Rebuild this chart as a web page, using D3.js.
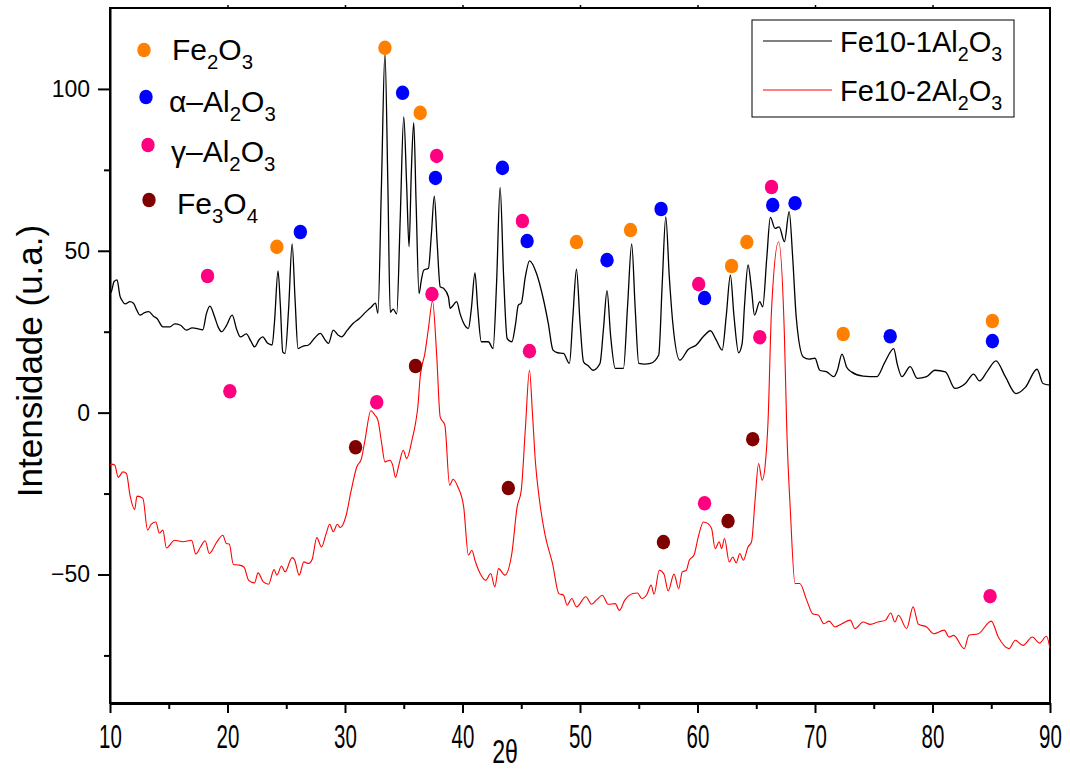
<!DOCTYPE html>
<html>
<head>
<meta charset="utf-8">
<script src="https://cdn.jsdelivr.net/npm/d3@7"></script>
<style>
  body { margin: 0; background: #fff; }
  text { font-family: "Liberation Sans", Arial, sans-serif; fill: #000; }
</style>
</head>
<body>
<div id="chart"></div>
<script>
// Fe10-1Al2O3 (black) pattern
var blackX = [10.0,10.1,10.35,10.6,10.85,11.0,11.3,11.7,12.0,12.3,12.55,12.9,13.3,13.7,14.0,14.5,15.1,15.5,16.0,16.5,17.0,17.7,17.9,18.2,18.5,18.9,19.2,19.5,19.9,20.4,20.8,21.1,21.6,22.0,22.3,22.7,23.0,23.4,23.8,24.0,24.3,24.5,24.7,24.9,25.2,25.5,25.75,26.0,26.4,26.9,27.4,27.9,28.3,28.6,29.0,29.4,29.7,30.2,30.7,31.2,31.8,32.2,32.6,32.8,33.1,33.4,33.65,33.85,34.1,34.4,34.7,35.0,35.25,35.45,35.65,35.85,36.05,36.3,36.5,36.7,37.1,37.35,37.6,37.85,38.1,38.4,38.8,38.95,39.1,39.5,39.8,40.1,40.5,40.75,41.06,41.3,41.6,42.2,42.6,42.9,43.2,43.5,43.8,44.2,44.5,44.75,45.0,45.35,45.7,46.3,46.9,47.3,47.7,48.1,48.6,49.1,49.4,49.7,50.0,50.3,50.7,51.1,51.7,52.0,52.3,52.6,53.0,53.7,54.05,54.4,54.7,55.0,55.5,56.0,56.7,57.0,57.3,57.6,57.9,58.5,59.2,59.9,60.5,61.1,61.6,62.1,62.45,62.8,63.1,63.5,63.8,64.0,64.3,64.6,64.85,65.3,65.55,65.9,66.2,66.6,66.95,67.4,67.8,68.1,68.4,69.0,69.5,70.0,70.4,71.0,71.6,71.9,72.3,72.7,73.1,74.1,75.25,75.96,76.7,77.0,77.4,78.1,78.7,79.5,80.2,81.1,81.9,82.8,83.5,84.0,84.7,85.4,86.2,87.1,87.9,88.9,89.4,90.0];
var blackY = [37,37.3,40.5,41.0,36,34.8,33.6,34.3,33.8,31.5,30.1,30.8,31.2,29.8,29.1,26.5,26.5,27.4,27.0,25.5,26.2,25.7,25.6,30.5,32.9,29.6,26.5,25.0,26.8,30.1,25.5,23.4,24.3,22.0,20.3,22.6,23.4,21.5,20.9,28,43.8,33,18.8,18.3,32,52.1,35,19.8,20.5,20.9,23.0,24.5,22.5,21.4,25.5,24.0,23.4,25.5,27.6,29.0,31.2,32.5,33.8,30.7,70,111,70,31,32,30.5,60,91.4,70,51.3,75,89.6,65,36.8,41,44.0,44.6,55,66.9,52,38.9,38.4,35.8,32.2,32.7,34.3,30.5,27.6,26.0,32,43.2,32,21.9,21.9,19.8,40,69.6,42,22.9,21.9,27,33.2,33.8,42,46.9,43.0,34.8,27.6,19.3,18.5,18.3,15.2,30,44.3,28,15.7,14.5,13.1,15.2,26,37.7,24,13.7,13.7,33,52.1,32,15.2,15.0,15.2,17.8,40,60.5,42,27.6,16.2,19.5,20.9,23.5,25.3,22.4,19.3,30,42.5,30,18.5,21.4,33,45.6,38,30.1,34.3,32.7,48,60.3,56.9,57.4,52.8,62.1,48,29.6,17.2,16.5,16.8,13.1,12.6,11.1,13,18.1,14,12.6,11.3,11.1,15.7,19.8,15,11.1,14.2,10.6,11.1,13.1,12.6,7.5,9.0,11.9,9.8,13,16.0,11.1,5.9,7.8,13.4,9.0,8.5];

// Fe10-2Al2O3 (red) pattern
var redX = [10.0,10.1,10.4,10.7,11.1,11.4,11.7,12.1,12.3,12.8,13.2,13.5,13.9,14.2,14.5,14.8,15.5,16.2,16.95,17.3,17.7,18.1,18.45,19.1,19.6,19.9,20.15,20.5,21.0,21.4,21.8,22.3,22.6,23.05,23.5,23.96,24.2,24.6,24.9,25.5,25.7,26.1,26.5,26.9,27.2,27.6,28.0,28.4,28.7,29.0,29.35,29.6,30.1,30.5,31.0,31.4,31.7,32.2,32.55,32.8,33.1,33.4,33.8,34.06,34.3,34.6,34.96,35.25,35.7,36.0,36.2,36.4,36.8,37.1,37.45,37.8,38.1,38.5,38.9,39.2,39.6,40.1,40.5,40.8,41.06,41.5,41.97,42.4,42.75,43.07,43.6,44.2,44.65,45.0,45.35,45.7,45.95,46.2,46.55,47.0,47.66,48.2,48.6,48.9,49.3,49.7,50.5,50.98,51.45,51.9,52.4,53.0,53.35,53.8,54.5,54.9,55.25,55.7,56.05,56.3,56.75,57.15,57.5,58.0,58.4,58.7,59.05,59.3,59.7,60.1,60.5,60.9,61.2,61.5,61.85,62.05,62.3,62.7,63.0,63.3,63.6,63.9,64.3,64.6,64.9,65.2,65.5,65.8,66.0,66.3,66.9,67.4,67.6,67.9,68.3,68.7,69.3,69.8,70.3,70.76,71.2,71.7,72.3,73.0,73.4,74.1,74.7,75.35,76.0,76.45,76.8,77.1,77.8,78.35,78.8,79.5,80.1,81.0,81.4,81.8,82.7,83.1,83.9,85.0,85.6,86.5,87.05,87.7,88.5,89.1,89.7,90.0];
var redY = [-16,-15.9,-16.2,-20.0,-18.3,-18.8,-25.5,-29.9,-25.8,-26.5,-36.3,-34.5,-33.8,-37.2,-36.3,-41.8,-39.4,-39.9,-39.4,-43.7,-41.5,-39.6,-43.5,-39.9,-37.9,-40.4,-40.6,-46.9,-47.1,-47.7,-51.8,-52.6,-49.5,-52.3,-53.0,-48.5,-50.2,-47.4,-49.2,-44.8,-45.4,-50.2,-46.1,-46.6,-45.4,-38.6,-41.5,-37.3,-34.5,-36.8,-34.5,-35.5,-31.7,-24.5,-16.8,-14.2,-8.5,0.6,-0.8,-2.3,-9,-15.2,-14.7,-16.2,-20.0,-15.9,-11.6,-14.2,-8.5,-3.3,1.8,11.1,18.3,26,34.5,18,-1.3,-3.9,-22.4,-20.6,-22.9,-29.1,-44.0,-42.5,-45.6,-49.7,-51.8,-49.7,-53.8,-48.2,-50.2,-43.5,-29.1,-24.0,-5,13.1,0,-15,-27.0,-37.3,-46.6,-55.9,-56.4,-59.5,-57.4,-60.0,-56.9,-59.2,-57.7,-56.4,-59.2,-59.0,-61.1,-58.0,-55.9,-55.7,-57.4,-56.1,-53.3,-56.1,-48.7,-49.9,-55.1,-49.9,-54.4,-49.2,-48.7,-45.6,-44.0,-37.9,-33.8,-34.3,-35.8,-42.0,-39.9,-42.0,-38.9,-46.1,-44.6,-46.4,-43.5,-45.6,-41.5,-39.9,-27.0,-15.7,-20.9,-14.7,-3,31.7,52.8,23.4,-5.4,-30.1,-52.8,-52.8,-58.0,-62.1,-62.6,-65.2,-64.4,-66.2,-65.2,-64.1,-66.7,-64.7,-65.4,-64.7,-64.1,-61.9,-64.7,-62.6,-66.7,-60.0,-65.4,-66.2,-68.3,-67.2,-69.3,-68.8,-72.9,-68.8,-68.3,-64.4,-69.3,-72.9,-70.3,-71.9,-69.3,-71.2,-69.1,-72.9];

var seriesColors = ["#000000", "#ff0000"];

// phase markers (2theta, intensity)
var phaseColors = ["#ff8000", "#0000ff", "#ff0080", "#800000"];
var fe2o3X = [24.2,33.4,36.4,49.7,54.3,62.9,64.2,72.4,85.1];
var fe2o3Y = [51.2,112.7,92.6,52.7,56.4,45.3,52.7,24.3,28.3];
var alphaX = [26.2,34.9,37.7,43.4,45.5,52.3,56.9,60.6,66.4,68.3,76.4,85.1];
var alphaY = [55.8,98.8,72.5,75.6,53.0,47.1,62.9,35.4,64.1,64.7,23.6,22.1];
var gammaX = [18.3,20.2,32.7,37.4,37.8,45.1,45.7,60.1,60.6,65.3,66.3,84.9];
var gammaY = [42.2,6.6,3.2,36.6,79.3,59.2,19.0,39.7,-28.0,23.3,69.7,-56.7];
var fe3o4X = [30.9,36.0,43.9,57.1,62.6,64.7];
var fe3o4Y = [-10.7,14.4,-23.3,-40.0,-33.5,-8.2];

var xTicks = [10,20,30,40,50,60,70,80,90];
var xMinor = [15,25,35,45,55,65,75,85];
var yTicks = [-50,0,50,100];
var yMinor = [-75,-25,25,75];

var w = 1070, h = 771;
var svg = d3.select("#chart").append("svg")
    .attr("width", w).attr("height", h)
    .style("background", "#fff");

var x = d3.scaleLinear().domain([10, 90]).range([110, 1050]);
var y = d3.scaleLinear().domain([-89.7, 125]).range([703, 8]);

// frame
svg.append("rect")
    .attr("x", 110).attr("y", 8).attr("width", 940).attr("height", 695)
    .style("fill", "none").style("stroke", "#000").style("stroke-width", 2);

// top small ticks
svg.append("g")
    .attr("transform", "translate(0,8)")
    .call(d3.axisTop(x).tickValues(xTicks.slice(1, -1)).tickSize(3).tickFormat(""))
    .call(g => g.select(".domain").remove())
    .selectAll("line").style("stroke-width", 1.5);

// bottom axis
var xAxis = svg.append("g")
    .attr("transform", "translate(0,703)")
    .call(d3.axisBottom(x).tickValues(xTicks).tickSize(10).tickSizeOuter(0));
xAxis.select(".domain").style("stroke-width", 3);
xAxis.selectAll("line").style("stroke-width", 2);
xAxis.selectAll("text")
    .attr("y", 45).attr("dy", 0)
    .attr("transform", "scale(0.62,1)")
    .style("font-size", "33px");

svg.append("g")
    .attr("transform", "translate(0,703)")
    .call(d3.axisBottom(x).tickValues(xMinor).tickSize(6).tickFormat(""))
    .call(g => g.select(".domain").remove())
    .selectAll("line").style("stroke-width", 2);

// left axis
var yAxis = svg.append("g")
    .attr("transform", "translate(110,0)")
    .call(d3.axisLeft(y).tickValues(yTicks).tickSize(12).tickSizeOuter(0).tickPadding(8));
yAxis.select(".domain").style("stroke-width", 2);
yAxis.selectAll("line").style("stroke-width", 2);
yAxis.selectAll("text").style("font-size", "23px");

svg.append("g")
    .attr("transform", "translate(110,0)")
    .call(d3.axisLeft(y).tickValues(yMinor).tickSize(6).tickFormat(""))
    .call(g => g.select(".domain").remove())
    .selectAll("line").style("stroke-width", 2);

// axis titles
svg.append("text")
    .attr("transform", "translate(42,361) rotate(-90)")
    .attr("text-anchor", "middle")
    .style("font-size", "35px")
    .text("Intensidade (u.a.)");

svg.append("text")
    .attr("transform", "translate(505,763) scale(0.68,1)")
    .attr("text-anchor", "middle")
    .style("font-size", "34px")
    .text("2θ");

// lines
var line = d3.line()
    .x(d => x(d[0]))
    .y(d => y(d[1]))
    .curve(d3.curveMonotoneX);

var blackData = blackX.map((v, i) => [v, blackY[i]]);
var redData = redX.map((v, i) => [v, redY[i]]);

svg.append("path").datum(redData)
    .attr("d", line)
    .style("fill", "none").style("stroke", seriesColors[1]).style("stroke-width", 1.1);
svg.append("path").datum(blackData)
    .attr("d", line)
    .style("fill", "none").style("stroke", seriesColors[0]).style("stroke-width", 1.3);

// phase markers
var phaseData = [[fe2o3X, fe2o3Y], [alphaX, alphaY], [gammaX, gammaY], [fe3o4X, fe3o4Y]];
phaseData.forEach(function(p, k) {
    svg.append("g").selectAll("ellipse")
        .data(p[0].map((v, i) => [v, p[1][i]]))
        .enter().append("ellipse")
        .attr("cx", d => x(d[0]))
        .attr("cy", d => y(d[1]))
        .attr("rx", 6.7).attr("ry", 7.3)
        .style("fill", phaseColors[k]);
});

// text with subscripts
function chem(sel, parts, size) {
    var down = false;
    parts.forEach(function(p) {
        var t = sel.append("tspan").text(p[0]);
        if (p[1]) {
            t.style("font-size", (size * 0.68) + "px");
            if (!down) { t.attr("dy", size * 0.3); down = true; }
        } else if (down) {
            t.attr("dy", -size * 0.3); down = false;
        }
    });
}

// phase legend (top left)
var phaseLegendParts = [
    [["Fe"], ["2", 1], ["O"], ["3", 1]],
    [["α–Al"], ["2", 1], ["O"], ["3", 1]],
    [["γ–Al"], ["2", 1], ["O"], ["3", 1]],
    [["Fe"], ["3", 1], ["O"], ["4", 1]]
];
var phaseLegendPos = [[144, 50, 172, 60], [146, 97, 169, 112], [148, 145, 171, 162], [149, 200, 177, 214]];
phaseLegendParts.forEach(function(parts, k) {
    var p = phaseLegendPos[k];
    svg.append("ellipse")
        .attr("cx", p[0]).attr("cy", p[1]).attr("rx", 6.7).attr("ry", 7.3)
        .style("fill", phaseColors[k]);
    var t = svg.append("text").attr("x", p[2]).attr("y", p[3]).style("font-size", "30px");
    chem(t, parts, 30);
});

// series legend (top right)
svg.append("rect")
    .attr("x", 752).attr("y", 20).attr("width", 262).attr("height", 97)
    .style("fill", "#fff").style("stroke", "#000").style("stroke-width", 1);
var seriesLegendParts = [
    [["Fe10-1Al"], ["2", 1], ["O"], ["3", 1]],
    [["Fe10-2Al"], ["2", 1], ["O"], ["3", 1]]
];
seriesLegendParts.forEach(function(parts, k) {
    var ly = 41 + k * 49;
    svg.append("line")
        .attr("x1", 763).attr("x2", 832).attr("y1", ly).attr("y2", ly)
        .style("stroke", seriesColors[k]).style("stroke-width", 1);
    var t = svg.append("text").attr("x", 840).attr("y", ly + 11).style("font-size", "29px");
    chem(t, parts, 29);
});
</script>
</body>
</html>
